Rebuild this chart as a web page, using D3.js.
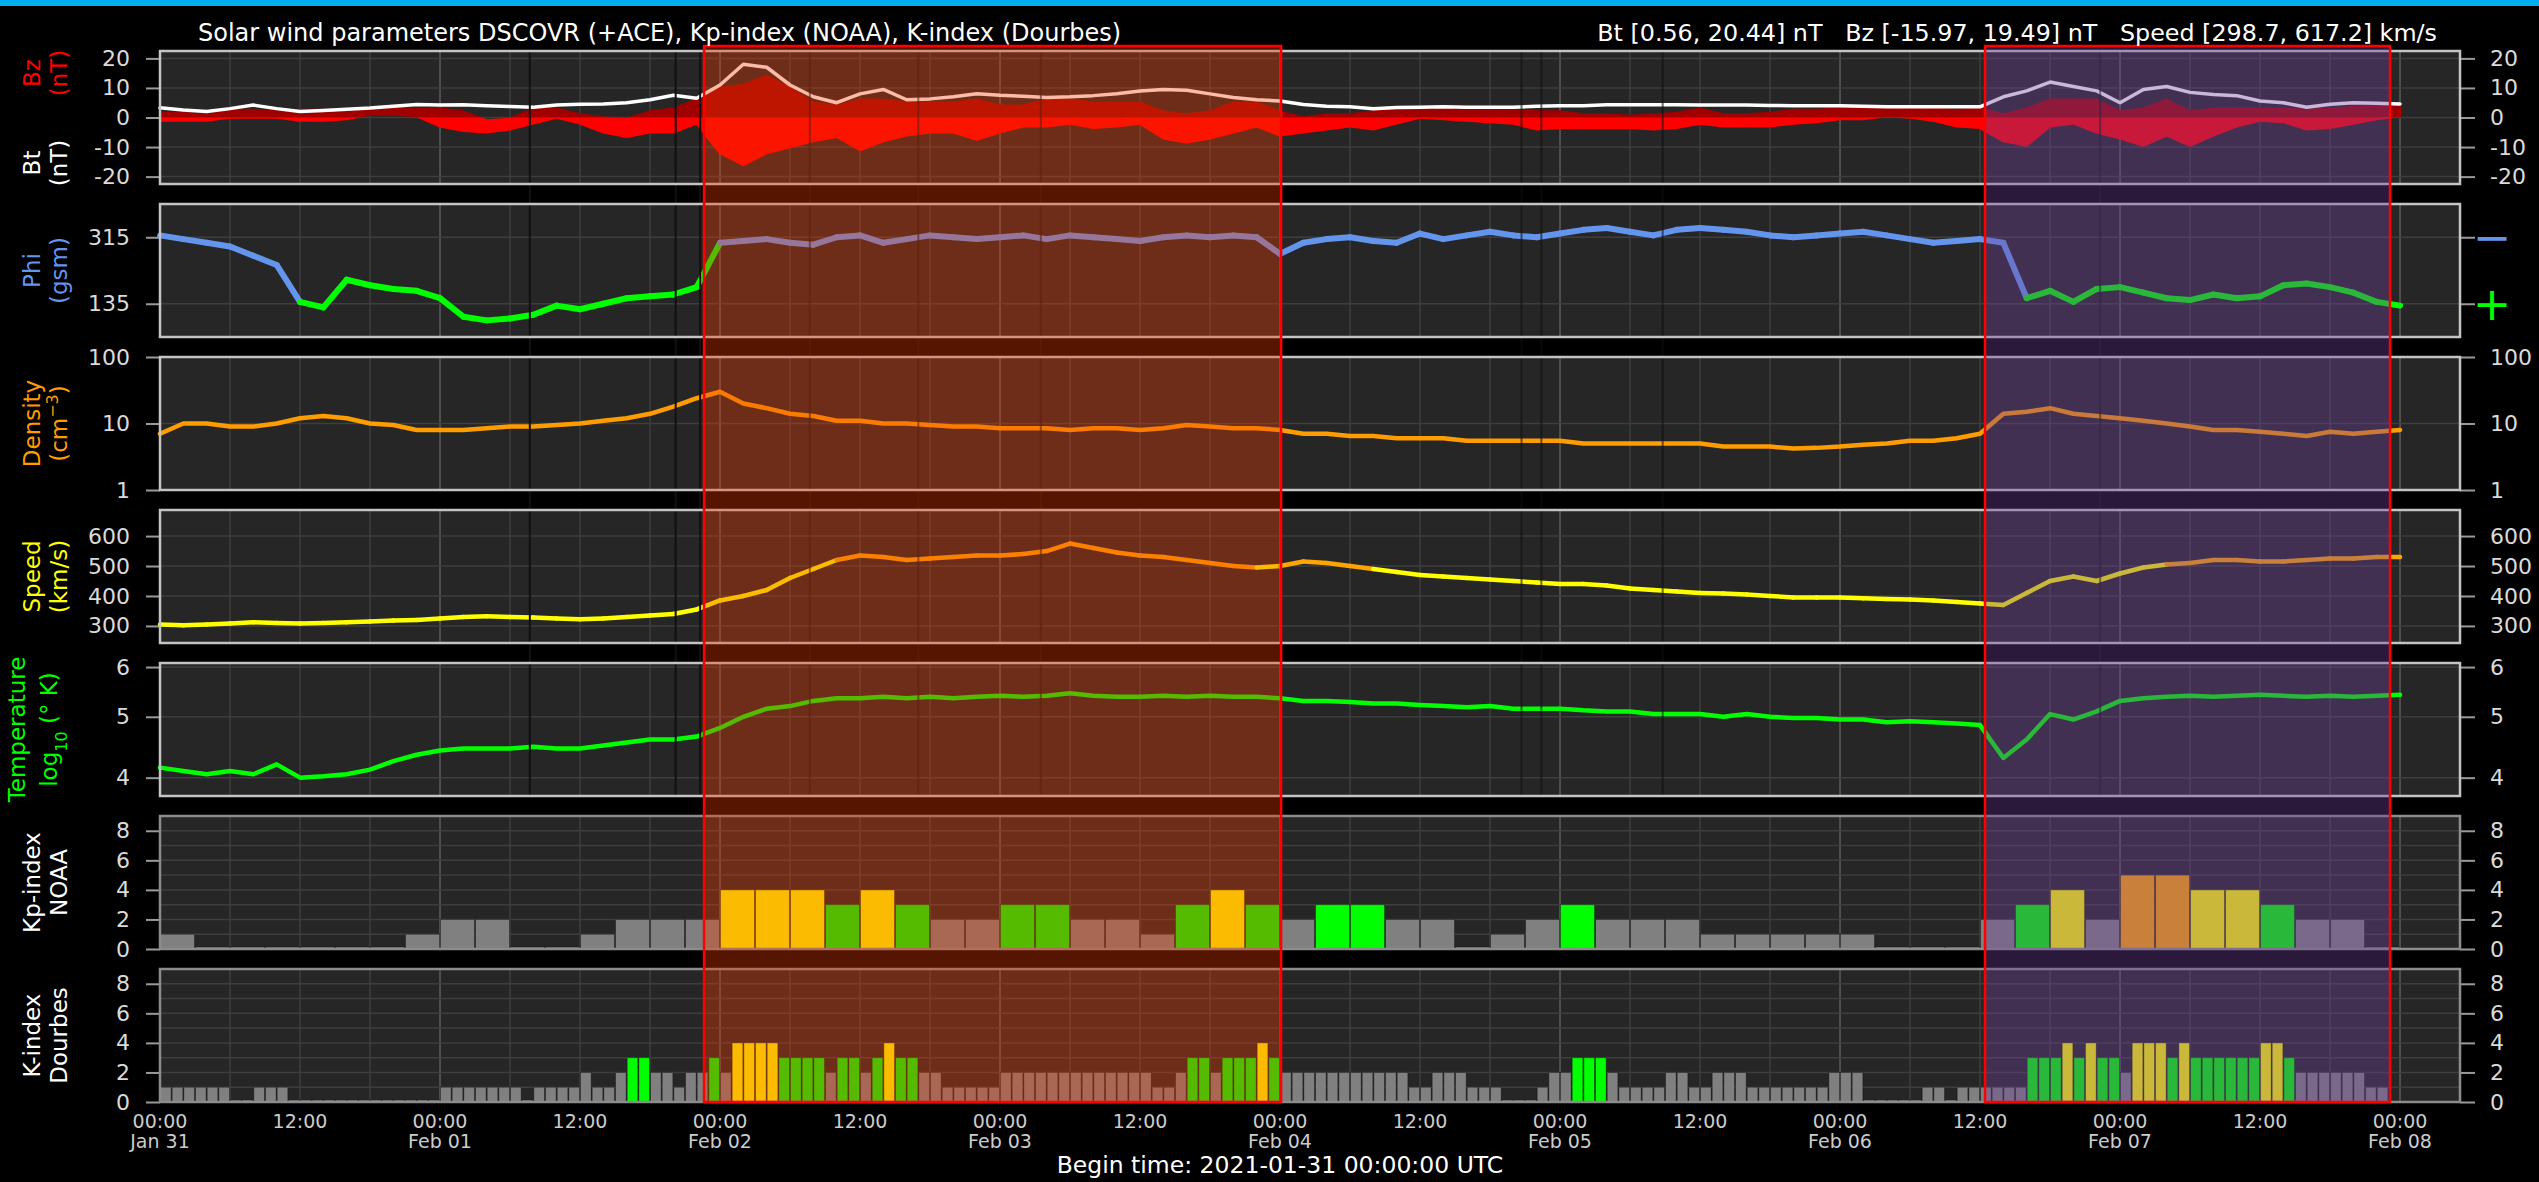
<!DOCTYPE html>
<html>
<head>
<meta charset="utf-8">
<script src="https://cdn.jsdelivr.net/npm/d3@7"></script>
<style>
  body { margin: 0; background: #000; }
  svg { display: block; font-family: "DejaVu Sans", sans-serif; }
</style>
</head>
<body>
<svg id="chart" width="2539" height="1182"></svg>
<script>
// ---- data ----
var titleLeft = "Solar wind parameters DSCOVR (+ACE), Kp-index (NOAA), K-index (Dourbes)";
var titleRight = "Bt [0.56, 20.44] nT   Bz [-15.97, 19.49] nT   Speed [298.7, 617.2] km/s";
var beginLabel = "Begin time: 2021-01-31 00:00:00 UTC";

// solar wind samples every 2 hours from 2021-01-31 00:00 UTC
var bt = [
  3.3,2.5,2.0,3.0,4.2,3.0,2.0,2.4,2.8,3.2,
  3.8,4.4,4.2,4.3,4.0,3.7,3.5,4.2,4.5,4.6,
  5.0,6.0,7.5,6.5,11,18,17,11,7,5,
  8,9.5,6,6.3,7,8,7.5,7.2,6.8,7,
  7.4,8,9,9.5,9.2,8,6.8,6,5.6,4.4,
  3.8,3.6,3.0,3.4,3.5,3.6,3.5,3.5,3.5,3.8,
  4.0,4.0,4.3,4.3,4.3,4.3,4.2,4.2,4.2,4.1,
  4.0,4.0,4.0,3.8,3.6,3.6,3.6,3.6,3.6,7.0,
  9.0,12.0,10.5,9.0,5.0,9.5,10.5,8.5,7.8,7.4,
  5.6,5.0,3.5,4.5,5.0,4.8,4.6
];
var bzLow = [
  -1,-1,-1,0,0,0,-1,-1,-0.5,1,
  1,0.5,-3,-4.5,-5,-4,-2,0,-2,-5,
  -6.5,-5,-5,-2,-12,-16,-12,-10,-8,-6.5,
  -11,-8,-6,-5,-5,-7.5,-5,-3,-3,-2,
  -3.5,-3,-2,-7,-8.5,-7,-5,-3,-6,-5,
  -4,-3,-4,-2,0,-0.5,-1,-1.5,-2,-4,
  -3.5,-3.5,-3.5,-3.5,-4,-3.5,-2,-3,-3,-3,
  -2,-1.5,-0.5,-0.5,0.5,0,-1,-3,-3.5,-8,
  -9.5,-3,-2,-5,-7,-9.5,-6,-9.5,-6,-3,
  -1,-1.5,-4,-3.5,-2,-0.5,0.5
];
var bzHigh = [
  1.5,1.5,1,2.5,2.5,2,2.5,2.5,2.5,3,
  3,3,3,2,-1,-0.5,3,3,1,0,
  -0.5,2,3,6,10,11,14,10,5,4,
  6,6,5,5,5,6,4,4,6,6,
  5,5,5,2,1,2,5,5,2,0,
  1,1,2,3,3,3.5,3.5,3.5,2.5,2,
  2,1,1,0.5,1,1.5,3,1,1,1.5,
  2.5,2.5,3,3,3.5,3.5,3,2.5,3,1,
  3,6,6,6,2,3,6,2,3,3,
  3,3,2.5,3,3.5,4,3.5
];
var phi = [
  320,310,300,290,265,240,140,125,200,185,
  175,170,150,100,90,95,105,130,120,135,
  150,155,160,180,300,305,310,300,295,315,
  320,300,310,320,315,310,315,320,310,320,
  315,310,305,315,320,315,320,315,270,300,
  310,315,305,300,325,310,320,330,320,315,
  325,335,340,330,320,335,340,335,330,320,
  315,320,325,330,320,310,300,305,310,300,
  150,170,140,175,180,165,150,145,160,150,
  155,185,190,180,165,140,130
];
var density = [
  7,10,10,9,9,10,12,13,12,10,
  9.5,8,8,8,8.5,9,9,9.5,10,11,
  12,14,18,24,30,20,17,14,13,11,
  11,10,10,9.5,9,9,8.5,8.5,8.5,8,
  8.5,8.5,8,8.5,9.5,9,8.5,8.5,8,7,
  7,6.5,6.5,6,6,6,5.5,5.5,5.5,5.5,
  5.5,5,5,5,5,5,5,4.5,4.5,4.5,
  4.2,4.3,4.5,4.8,5,5.5,5.5,6,7,14,
  15,17,14,13,12,11,10,9,8,8,
  7.5,7,6.5,7.5,7,7.5,8
];
var speed = [
  305,302,305,308,312,310,308,310,312,315,
  318,320,325,330,332,330,328,325,322,325,
  330,335,340,355,385,400,420,460,490,520,
  535,530,520,525,530,535,535,540,550,575,
  560,545,535,530,520,510,500,495,500,515,
  510,500,490,480,470,465,460,455,450,445,
  440,440,435,425,420,415,410,408,405,400,
  395,395,395,392,390,388,385,380,375,370,
  410,450,465,450,475,495,505,510,520,520,
  515,515,520,525,525,530,530
];
var logTemp = [
  4.15,4.1,4.05,4.1,4.05,4.2,4.0,4.02,4.05,4.12,
  4.25,4.35,4.42,4.45,4.45,4.45,4.48,4.45,4.45,4.5,
  4.55,4.6,4.6,4.65,4.8,5.0,5.15,5.2,5.3,5.35,
  5.35,5.38,5.35,5.38,5.35,5.38,5.4,5.38,5.4,5.45,
  5.4,5.38,5.38,5.4,5.38,5.4,5.38,5.38,5.35,5.3,
  5.3,5.28,5.25,5.25,5.22,5.2,5.18,5.2,5.15,5.15,
  5.15,5.12,5.1,5.1,5.05,5.05,5.05,5.0,5.05,5.0,
  4.98,4.98,4.95,4.95,4.9,4.92,4.9,4.88,4.85,4.3,
  4.6,5.05,4.95,5.1,5.3,5.35,5.38,5.4,5.38,5.4,
  5.42,5.4,5.38,5.4,5.38,5.4,5.42
];

// Kp (NOAA), 3-hour values
var kp = [
  1,0,0,0,0,0,0,1,
  2,2,0,0,1,2,2,2,
  4,4,4,3,4,3,2,2,
  3,3,2,2,1,3,4,3,
  2,3,3,2,2,0,1,2,
  3,2,2,2,1,1,1,1,
  1,0,0,0,2,3,4,2,
  5,5,4,4,3,2,2,0
];
// K (Dourbes), hourly values
var kDourbes = [
  1,1,1,1,1,1,0,0,1,1,1,0,0,0,0,0,0,0,0,0,0,0,0,0,
  1,1,1,1,1,1,1,0,1,1,1,1,2,1,1,2,3,3,2,2,1,2,2,3,
  2,4,4,4,4,3,3,3,3,2,3,3,2,3,4,3,3,2,2,1,1,1,1,1,
  2,2,2,2,2,2,2,2,2,2,2,2,2,1,1,2,3,3,2,3,3,3,4,3,
  2,2,2,2,2,2,2,2,2,2,2,1,1,2,2,2,1,1,1,0,0,0,1,2,
  2,3,3,3,2,1,1,1,1,2,2,1,1,2,2,2,1,1,1,1,1,1,1,2,
  2,2,0,0,0,0,0,1,1,0,1,1,1,1,1,1,3,3,3,4,3,4,3,3,
  2,4,4,4,3,4,3,3,3,3,3,3,4,4,3,2,2,2,2,2,2,1,1
];

// highlighted intervals and data gaps, in hours after start
var eventStart = [46.63, 156.43];
var eventEnd = [96.09, 191.14];
var gapHours = [31.7, 44.2, 46.3, 55.7, 65.0, 75.5, 116.7, 118.4, 128.8, 166.3];

var stepHours = 2;
var tickLabels = {
  bt: [-20, -10, 0, 10, 20],
  phi: [135, 315],
  density: [1, 10, 100],
  speed: [300, 400, 500, 600],
  temp: [4, 5, 6],
  k: [0, 2, 4, 6, 8]
};

// ---- layout ----
var W = 2539, H = 1182;
var left = 160, right = 2460;
var HOUR = 3600e3;
var t0 = Date.UTC(2021, 0, 31);
function at(h) { return new Date(t0 + h * HOUR); }

var x = d3.scaleUtc().domain([at(0), at(197.14)]).range([left, right]);

var svg = d3.select("#chart");
svg.append("rect").attr("width", W).attr("height", H).attr("fill", "#000");
svg.append("rect").attr("width", W).attr("height", 6).attr("fill", "#00aeef");

var panelH = 133;
function panelTop(i) { return 51 + 153 * i; }

var panels = [
  { y: d3.scaleLinear().domain([-22.5, 22.5]), ticks: tickLabels.bt, grid: tickLabels.bt, rightLabels: true },
  { y: d3.scaleLinear().domain([45, 405]), ticks: tickLabels.phi, grid: tickLabels.phi, rightLabels: false },
  { y: d3.scaleLog().domain([1, 100]), ticks: tickLabels.density, grid: [10], rightLabels: true },
  { y: d3.scaleLinear().domain([243, 687]), ticks: tickLabels.speed, grid: tickLabels.speed, rightLabels: true },
  { y: d3.scaleLog().domain([3.74, 6.09]), ticks: tickLabels.temp, grid: tickLabels.temp, rightLabels: true },
  { y: d3.scaleLinear().domain([0, 9]), ticks: tickLabels.k, grid: d3.range(1, 9), rightLabels: true, dim: true },
  { y: d3.scaleLinear().domain([0, 9]), ticks: tickLabels.k, grid: d3.range(1, 9), rightLabels: true, dim: true }
];

var sixHours = d3.utcHour.every(6).range(at(0), at(197.14));

panels.forEach(function(p, i) {
  var ty = panelTop(i);
  p.y.range([ty + panelH, ty]);
  var g = svg.append("g");
  g.append("rect").attr("x", left).attr("y", ty).attr("width", right - left).attr("height", panelH)
    .attr("fill", "#262626");
  // vertical grid
  g.selectAll(".vg").data(sixHours).enter().append("line")
    .attr("x1", function(d) { return x(d); }).attr("x2", function(d) { return x(d); })
    .attr("y1", ty).attr("y2", ty + panelH)
    .attr("stroke", function(d) { return d.getUTCHours() === 0 ? "#5c5c5c" : "#3e3e3e"; })
    .attr("stroke-width", 1.5);
  // horizontal grid
  g.selectAll(".hg").data(p.grid).enter().append("line")
    .attr("x1", left).attr("x2", right)
    .attr("y1", function(d) { return p.y(d); }).attr("y2", function(d) { return p.y(d); })
    .attr("stroke", "#3e3e3e").attr("stroke-width", 1.5);

  var fmt = function(d) { return String(d); };
  var la = svg.append("g").attr("transform", "translate(" + left + ",0)")
    .call(d3.axisLeft(p.y).tickValues(p.ticks).tickFormat(fmt).tickSize(14).tickPadding(16));
  var ra = svg.append("g").attr("transform", "translate(" + right + ",0)")
    .call(d3.axisRight(p.y).tickValues(p.ticks).tickFormat(p.rightLabels ? fmt : function() { return ""; })
      .tickSize(15).tickPadding(15));
  [la, ra].forEach(function(a) {
    a.select(".domain").remove();
    a.selectAll("line").attr("stroke", "#9a9a9a").attr("stroke-width", 2);
    a.selectAll("text").attr("fill", "#dadada").attr("font-size", 22)
      .attr("font-family", "DejaVu Sans, sans-serif");
  });
});

// ---- series ----
function xi(i) { return x(at(i * stepHours)); }

// Bz band: dark red above zero, red below zero
var yB = panels[0].y;
var defs = svg.append("defs");
defs.append("clipPath").attr("id", "abv").append("rect")
  .attr("x", left).attr("y", panelTop(0)).attr("width", right - left).attr("height", yB(0) - panelTop(0));
defs.append("clipPath").attr("id", "blw").append("rect")
  .attr("x", left).attr("y", yB(0)).attr("width", right - left).attr("height", panelTop(0) + panelH - yB(0));
var bzArea = d3.area().x(function(d, i) { return xi(i); })
  .y0(function(d, i) { return yB(bzLow[i]); })
  .y1(function(d, i) { return yB(bzHigh[i]); });
[["abv", "#a00000"], ["blw", "#ff0000"]].forEach(function(c) {
  svg.append("path").datum(bzLow).attr("d", bzArea).attr("clip-path", "url(#" + c[0] + ")")
    .attr("fill", c[1]).attr("stroke", c[1]).attr("stroke-width", 2.5).attr("stroke-linejoin", "round");
});

function plotLine(values, y, color, width) {
  var line = d3.line().x(function(d, i) { return xi(i); }).y(function(d) { return y(d); });
  svg.append("path").datum(values).attr("d", line).attr("fill", "none")
    .attr("stroke", color).attr("stroke-width", width).attr("stroke-linejoin", "round")
    .attr("stroke-linecap", "round");
}
function plotSplit(values, y, colorOf, width) {
  var segs = d3.range(values.length - 1);
  svg.append("g").selectAll("line").data(segs).enter().append("line")
    .attr("x1", function(i) { return xi(i); }).attr("x2", function(i) { return xi(i + 1); })
    .attr("y1", function(i) { return y(values[i]); }).attr("y2", function(i) { return y(values[i + 1]); })
    .attr("stroke", function(i) { return colorOf(values[i]); })
    .attr("stroke-width", width).attr("stroke-linecap", "round");
}

plotLine(bt, yB, "#ffffff", 3.5);
plotSplit(phi, panels[1].y, function(v) { return v > 225 ? "#6495ed" : "#00ff00"; }, 6);
plotLine(density, panels[2].y, "#ff9c00", 4.5);
plotSplit(speed, panels[3].y, function(v) { return v >= 500 ? "#ffa500" : "#ffff00"; }, 4.5);
plotLine(logTemp, panels[4].y, "#00ff00", 4.5);

// data gaps
svg.append("g").selectAll("line").data(gapHours).enter().append("line")
  .attr("x1", function(h) { return x(at(h)); }).attr("x2", function(h) { return x(at(h)); })
  .attr("y1", panelTop(0)).attr("y2", panelTop(4) + panelH)
  .attr("stroke", "#111").attr("stroke-width", 2).attr("stroke-opacity", function(h, i) { return i < 3 ? 1 : 0.6; });

// ---- K indices ----
function kColor(v) {
  if (v >= 5) return "#ffa500";
  if (v >= 4) return "#ffff00";
  if (v >= 3) return "#00ff00";
  return "#808080";
}
function plotBars(values, hours, y) {
  svg.append("g").selectAll("rect").data(values).enter().append("rect")
    .attr("x", function(d, i) { return x(at(i * hours)) + 0.5; })
    .attr("width", function(d, i) { return x(at((i + 1) * hours)) - x(at(i * hours)) - 1; })
    .attr("y", function(d) { return Math.min(y(d), y(0) - 2); })
    .attr("height", function(d) { return Math.max(y(0) - y(d), 2); })
    .attr("fill", function(d) { return kColor(d); })
    .attr("stroke", "rgba(0,0,0,0.35)").attr("stroke-width", 1);
}
plotBars(kp, 3, panels[5].y);
plotBars(kDourbes, 1, panels[6].y);

// panel borders
panels.forEach(function(p, i) {
  svg.append("rect").attr("x", left).attr("y", panelTop(i)).attr("width", right - left).attr("height", panelH)
    .attr("fill", "none").attr("stroke", p.dim ? "#8c8c8c" : "#c4c4c4").attr("stroke-width", 2.5);
});

// highlighted intervals
var boxFill = ["rgba(243,60,0,0.35)", "rgba(112,66,155,0.375)"];
svg.append("g").selectAll("rect").data(eventStart).enter().append("rect")
  .attr("x", function(d) { return x(at(d)); })
  .attr("width", function(d, i) { return x(at(eventEnd[i])) - x(at(d)); })
  .attr("y", 46).attr("height", panelTop(6) + panelH - 46)
  .attr("fill", function(d, i) { return boxFill[i]; })
  .attr("stroke", "#ff0000").attr("stroke-width", 2.5);

// ---- labels ----
function axisLabel(cy, lines, color, x1, x2) {
  var g = svg.append("g").attr("fill", color).attr("font-size", 23).attr("text-anchor", "middle");
  [x1, x2].forEach(function(xx, k) {
    var t = g.append("text").attr("transform", "translate(" + xx + "," + cy + ") rotate(-90)");
    lines[k].forEach(function(part) {
      var s = t.append("tspan").text(part[0]);
      if (part[1]) s.attr("baseline-shift", part[1]).attr("font-size", 16);
    });
  });
}
axisLabel(panelTop(0) + 22, [[["Bz"]], [["(nT)"]]], "#ff0000", 40, 67);
axisLabel(panelTop(0) + 112, [[["Bt"]], [["(nT)"]]], "#ffffff", 40, 67);
axisLabel(panelTop(1) + panelH / 2, [[["Phi"]], [["(gsm)"]]], "#6495ed", 40, 67);
axisLabel(panelTop(2) + panelH / 2, [[["Density"]], [["(cm"], ["\u22123", "super"], [")"]]], "#ff9c00", 40, 67);
axisLabel(panelTop(3) + panelH / 2, [[["Speed"]], [["(km/s)"]]], "#ffff00", 40, 67);
axisLabel(panelTop(4) + panelH / 2, [[["Temperature"]], [["log"], ["10", "sub"], [" (\u00b0 K)"]]], "#00ff00", 25, 57);
axisLabel(panelTop(5) + panelH / 2, [[["Kp-index"]], [["NOAA"]]], "#ffffff", 40, 67);
axisLabel(panelTop(6) + panelH / 2, [[["K-index"]], [["Dourbes"]]], "#ffffff", 40, 67);

// phi sector legend
svg.append("text").attr("x", 2492).attr("y", panels[1].y(315)).attr("dy", "0.35em")
  .attr("text-anchor", "middle").attr("font-size", 46).attr("fill", "#6495ed").text("\u2212");
svg.append("text").attr("x", 2492).attr("y", panels[1].y(135)).attr("dy", "0.35em")
  .attr("text-anchor", "middle").attr("font-size", 46).attr("fill", "#00ff00").text("+");

// titles
svg.append("text").attr("x", 198).attr("y", 33).attr("dominant-baseline", "central")
  .attr("fill", "#fff").attr("font-size", 24).text(titleLeft);
svg.append("text").attr("x", 2437).attr("y", 33).attr("dominant-baseline", "central")
  .attr("text-anchor", "end").attr("fill", "#fff").attr("font-size", 23.8)
  .style("white-space", "pre").text(titleRight);

// time axis labels
var halfDays = d3.utcHour.every(12).range(at(0), at(192.5));
var xl = svg.append("g").attr("fill", "#cccccc").attr("font-size", 19).attr("text-anchor", "middle");
halfDays.forEach(function(d) {
  xl.append("text").attr("x", x(d)).attr("y", 1121).attr("dominant-baseline", "central")
    .text(d3.utcFormat("%H:%M")(d));
  if (d.getUTCHours() === 0) {
    xl.append("text").attr("x", x(d)).attr("y", 1141).attr("dominant-baseline", "central")
      .text(d3.utcFormat("%b %d")(d));
  }
});
svg.append("text").attr("x", 1280).attr("y", 1165).attr("dominant-baseline", "central")
  .attr("text-anchor", "middle").attr("fill", "#fff").attr("font-size", 23.5).text(beginLabel);
</script>
</body>
</html>
